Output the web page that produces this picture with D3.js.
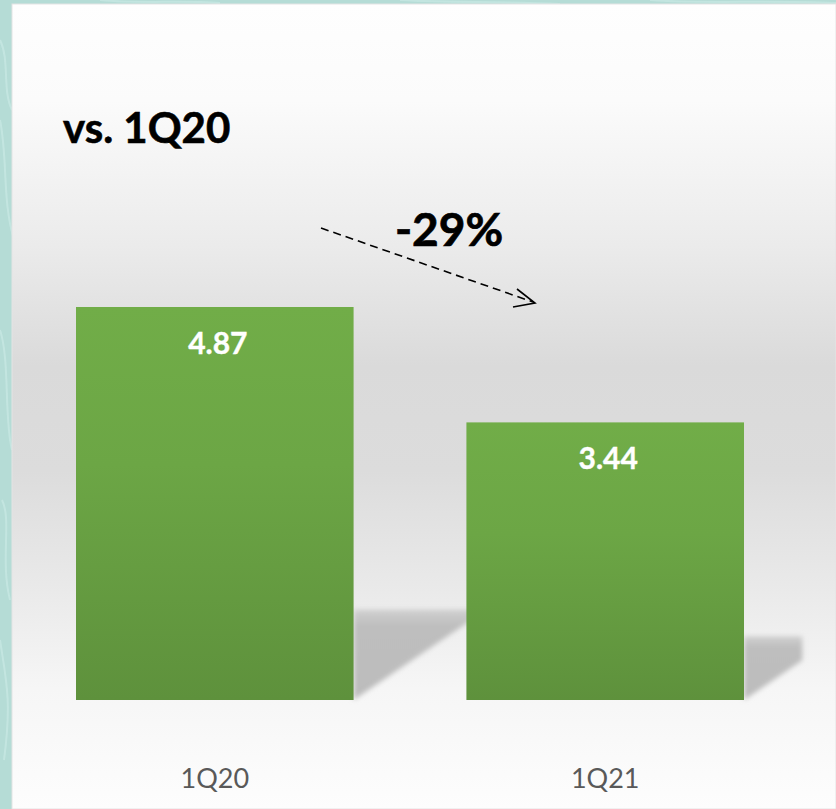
<!DOCTYPE html>
<html>
<head>
<meta charset="utf-8">
<script src="https://cdn.jsdelivr.net/npm/d3@7/dist/d3.min.js"></script>
<style>
  html, body { margin: 0; padding: 0; background: #b5dcd6; }
  svg { display: block; }
  text { font-family: Lato, "Open Sans", sans-serif; }
</style>
</head>
<body>
<svg id="chart" width="836" height="809"></svg>
<script>
// ---- data ----
const categories = ["1Q20", "1Q21"];
const values = [4.87, 3.44];
const valueLabels = ["4.87", "3.44"];
const titleText = "vs. 1Q20";
const changeText = "-29%";

// ---- setup ----
const W = 836, H = 809;
const svg = d3.select("#chart");
const defs = svg.append("defs");

// teal decorative frame
svg.append("rect").attr("width", W).attr("height", H).attr("fill", "#b5dcd6");
const waves = [
  "M0,120 C8,160 2,200 14,240", "M0,330 C10,360 4,420 12,450",
  "M2,500 C12,520 0,560 10,600", "M0,640 C6,680 12,700 4,760",
  "M0,40 C10,60 2,90 12,110", "M100,0 C140,4 180,0 220,3",
  "M400,0 C450,3 500,1 560,4", "M650,0 C700,4 760,0 836,3"
];
svg.append("g").selectAll("path").data(waves).join("path")
  .attr("d", d => d).attr("fill", "none")
  .attr("stroke", "#e6fbf7").attr("stroke-width", 2).attr("opacity", 0.3);

// panel background gradient
const pg = defs.append("linearGradient").attr("id", "panelGrad")
  .attr("x1", 0).attr("y1", 0).attr("x2", 0).attr("y2", 1);
[[0, "#fefefe"], [0.12, "#fbfbfb"], [0.3, "#ebebeb"], [0.45, "#dadada"],
 [0.58, "#dcdcdc"], [0.72, "#e9e9e9"], [0.85, "#f6f6f6"], [1, "#fdfdfd"]]
  .forEach(([o, c]) => pg.append("stop").attr("offset", o).attr("stop-color", c));
svg.append("rect").attr("x", 12).attr("y", 4).attr("width", W - 12).attr("height", H - 4)
  .attr("fill", "url(#panelGrad)").attr("stroke", "#e4e4e4").attr("stroke-width", 1);

// bar gradient
const bg = defs.append("linearGradient").attr("id", "barGrad")
  .attr("x1", 0).attr("y1", 0).attr("x2", 0).attr("y2", 1);
bg.append("stop").attr("offset", 0).attr("stop-color", "#71ad48");
bg.append("stop").attr("offset", 0.4).attr("stop-color", "#6ca645");
bg.append("stop").attr("offset", 1).attr("stop-color", "#5e913c");

// shadow gradient + blur
const sg = defs.append("linearGradient").attr("id", "shadowGrad")
  .attr("x1", 0).attr("y1", 0).attr("x2", 0).attr("y2", 1);
sg.append("stop").attr("offset", 0).attr("stop-color", "#d0d0d0");
sg.append("stop").attr("offset", 0.18).attr("stop-color", "#bebebe");
sg.append("stop").attr("offset", 1).attr("stop-color", "#bcbcbc");
defs.append("filter").attr("id", "blur").attr("x", "-20%").attr("y", "-20%")
  .attr("width", "140%").attr("height", "140%")
  .append("feGaussianBlur").attr("stdDeviation", 2.5);

// ---- scales ----
const x = d3.scaleBand().domain(categories).range([76, 744]).paddingInner(0.289).paddingOuter(0);
const y = d3.scaleLinear().domain([0, 6]).range([700, 700 - 6 * 80.7]);

// shadows
const shadowG = svg.append("g").attr("filter", "url(#blur)");
values.forEach((v, i) => {
  const h = y(0) - y(v);
  const r = x(categories[i]) + x.bandwidth();
  const top = y(0) - 0.23 * h;
  const w = i < values.length - 1 ? (x.step() - x.bandwidth()) + 10 : 0.21 * h;
  const y0 = y(0);
  const yr = Math.max(top + 4, y0 - w * 0.68);
  shadowG.append("path")
    .attr("d", `M${r},${top}L${r + w},${top}L${r + w},${yr}L${r},${y0}Z`)
    .attr("fill", "url(#shadowGrad)");
});

// bars
svg.append("g").selectAll("rect").data(values).join("rect")
  .attr("x", (d, i) => x(categories[i]))
  .attr("y", d => y(d))
  .attr("width", x.bandwidth())
  .attr("height", d => y(0) - y(d))
  .attr("fill", "url(#barGrad)");

// value labels
svg.append("g").selectAll("text").data(values).join("text")
  .attr("x", (d, i) => x(categories[i]) + x.bandwidth() / 2 + 3)
  .attr("y", d => y(d) + 47)
  .attr("text-anchor", "middle")
  .attr("font-size", 30).attr("font-weight", 700).attr("fill", "#ffffff")
  .attr("stroke", "#ffffff").attr("stroke-width", 0.4)
  .text((d, i) => valueLabels[i]);

// category axis (no line, no ticks)
const xAxis = svg.append("g").attr("transform", `translate(0,${y(0)})`)
  .call(d3.axisBottom(x).tickSize(0).tickPadding(88));
xAxis.select(".domain").remove();
xAxis.selectAll("text").attr("font-family", "Lato, sans-serif")
  .attr("font-size", 27).attr("fill", "#595959").attr("dy", 0);

// title
svg.append("text").attr("x", 63).attr("y", 143)
  .attr("font-size", 42).attr("font-weight", 700).attr("fill", "#000")
  .attr("stroke", "#000").attr("stroke-width", 0.6)
  .text(titleText);

// change annotation
svg.append("text").attr("x", 449).attr("y", 246).attr("text-anchor", "middle")
  .attr("font-size", 46).attr("font-weight", 700).attr("fill", "#000")
  .attr("stroke", "#000").attr("stroke-width", 0.7)
  .text(changeText);

// dashed arrow
svg.append("line")
  .attr("x1", 321).attr("y1", 228).attr("x2", 533).attr("y2", 302)
  .attr("stroke", "#000").attr("stroke-width", 1.6).attr("stroke-dasharray", "8,5");
svg.append("path")
  .attr("d", "M517,289 L535,303 L513,307")
  .attr("fill", "none").attr("stroke", "#000").attr("stroke-width", 1.6);
</script>
</body>
</html>
